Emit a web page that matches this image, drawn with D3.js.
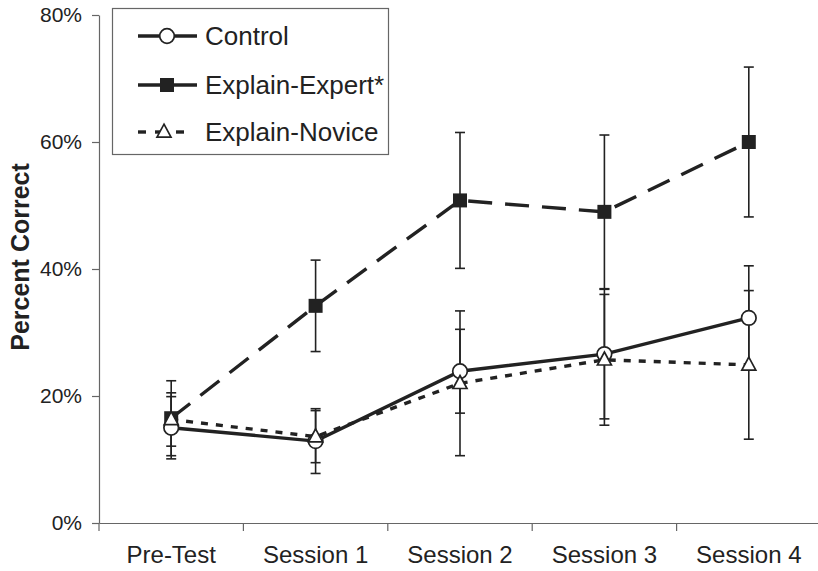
<!DOCTYPE html>
<html>
<head>
<meta charset="utf-8">
<script src="https://cdn.jsdelivr.net/npm/d3@7"></script>
<style>
  html, body { margin: 0; padding: 0; background: #fff; }
  svg { display: block; font-family: "Liberation Sans", Arial, sans-serif; }
</style>
</head>
<body>
<svg id="chart" width="818" height="571"></svg>
<script>
const categories = ["Pre-Test", "Session 1", "Session 2", "Session 3", "Session 4"];
const yTicks = [0, 20, 40, 60, 80];

const controlVals = [15.0, 12.9, 23.9, 26.6, 32.3];
const controlErr  = [4.9, 5.1, 6.6, 10.2, 8.2];
const expertVals  = [16.5, 34.2, 50.8, 49.0, 60.0];
const expertErr   = [5.9, 7.2, 10.7, 12.1, 11.8];
const noviceVals  = [16.3, 13.6, 22.0, 25.7, 24.9];
const noviceErr   = [4.2, 4.1, 11.4, 10.3, 11.7];

const seriesNames = ["Control", "Explain-Expert*", "Explain-Novice"];

const svg = d3.select("#chart");
const ink = "#222";
const axisColor = "#666";

const x = d3.scaleBand().domain(categories).range([99, 821]);
const y = d3.scaleLinear().domain([0, 80]).range([523, 15]);
const cx = c => x(c) + x.bandwidth() / 2;

// Y axis
const yAxis = svg.append("g").attr("transform", "translate(99,0)")
  .call(d3.axisLeft(y).tickValues(yTicks).tickFormat(d => d + "%").tickSize(7).tickSizeOuter(0).tickPadding(10));
yAxis.select(".domain").attr("stroke", axisColor).attr("stroke-width", 1.2);
yAxis.selectAll(".tick line").attr("stroke", axisColor).attr("stroke-width", 1.2);
yAxis.selectAll(".tick text").attr("fill", ink).style("font-size", "21px").style("font-family", "Liberation Sans, Arial, sans-serif");

// X axis
const xAxis = svg.append("g").attr("transform", "translate(0,523)")
  .call(d3.axisBottom(x).tickSize(0).tickSizeOuter(0).tickPadding(23));
xAxis.select(".domain").attr("stroke", axisColor).attr("stroke-width", 1.2);
xAxis.selectAll(".tick text").attr("fill", ink).style("font-size", "24px").style("font-family", "Liberation Sans, Arial, sans-serif");
xAxis.selectAll(".bound").data(categories).enter().append("line")
  .attr("x1", d => x(d)).attr("x2", d => x(d)).attr("y1", 0).attr("y2", 8)
  .attr("stroke", axisColor).attr("stroke-width", 1.2);

// Y title
svg.append("text")
  .attr("transform", "translate(29,257) rotate(-90)")
  .attr("text-anchor", "middle")
  .attr("fill", ink)
  .style("font-size", "25px").style("font-weight", "bold")
  .text("Percent Correct");

const series = [
  { name: seriesNames[0], vals: controlVals, err: controlErr, dash: null, marker: "circle" },
  { name: seriesNames[1], vals: expertVals, err: expertErr, dash: "24,13", marker: "square" },
  { name: seriesNames[2], vals: noviceVals, err: noviceErr, dash: "7,8", marker: "triangle" }
];

// Error bars
series.forEach(s => {
  const g = svg.append("g");
  categories.forEach((c, i) => {
    const top = y(s.vals[i] + s.err[i]), bot = y(s.vals[i] - s.err[i]), xc = cx(c);
    g.append("line").attr("x1", xc).attr("x2", xc).attr("y1", top).attr("y2", bot)
      .attr("stroke", ink).attr("stroke-width", 1.6);
    [top, bot].forEach(yy => g.append("line").attr("x1", xc - 5).attr("x2", xc + 5)
      .attr("y1", yy).attr("y2", yy).attr("stroke", ink).attr("stroke-width", 1.6));
  });
});

// Lines
const line = d3.line().x((d, i) => cx(categories[i])).y(d => y(d));
series.forEach(s => {
  const p = svg.append("path").datum(s.vals).attr("d", line)
    .attr("fill", "none").attr("stroke", ink).attr("stroke-width", 3.4);
  if (s.dash) p.attr("stroke-dasharray", s.dash);
});

function drawMarker(g, type, xc, yc) {
  if (type === "circle") {
    g.append("circle").attr("cx", xc).attr("cy", yc).attr("r", 7.3)
      .attr("fill", "#fff").attr("stroke", ink).attr("stroke-width", 1.7);
  } else if (type === "square") {
    g.append("rect").attr("x", xc - 7).attr("y", yc - 7).attr("width", 14).attr("height", 14)
      .attr("fill", ink);
  } else {
    const h = 13, w = 14;
    g.append("path")
      .attr("d", `M${xc},${yc - h * 0.6} L${xc + w / 2},${yc + h * 0.4} L${xc - w / 2},${yc + h * 0.4} Z`)
      .attr("fill", "#fff").attr("stroke", ink).attr("stroke-width", 1.7).attr("stroke-linejoin", "miter");
  }
}

// Markers: expert, control, novice order
[series[1], series[0], series[2]].forEach(s => {
  const g = svg.append("g");
  categories.forEach((c, i) => drawMarker(g, s.marker, cx(c), y(s.vals[i])));
});

// Legend
const lg = svg.append("g");
lg.append("rect").attr("x", 112.5).attr("y", 8.5).attr("width", 276).attr("height", 146)
  .attr("fill", "#fff").attr("stroke", axisColor).attr("stroke-width", 1.2);
const rowsY = [36, 85, 132];
series.forEach((s, i) => {
  const yy = rowsY[i];
  if (s.marker === "triangle") {
    [[138, 146], [155, 161], [176, 184]].forEach(seg => lg.append("line")
      .attr("x1", seg[0]).attr("x2", seg[1]).attr("y1", yy).attr("y2", yy)
      .attr("stroke", ink).attr("stroke-width", 3.4));
  } else {
    lg.append("line").attr("x1", 138).attr("x2", 197).attr("y1", yy).attr("y2", yy)
      .attr("stroke", ink).attr("stroke-width", 3.4);
  }
  drawMarker(lg, s.marker, s.marker === "triangle" ? 164 : 167, yy);
  lg.append("text").attr("x", 205).attr("y", yy).attr("dy", "0.36em")
    .attr("fill", ink).style("font-size", "26px").text(s.name);
});
</script>
</body>
</html>
